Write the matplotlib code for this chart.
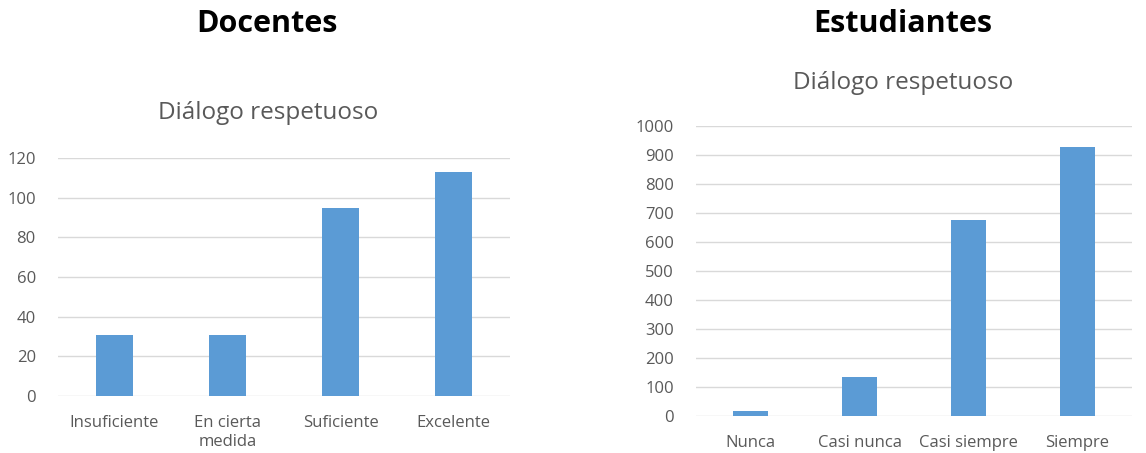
import matplotlib
matplotlib.use("Agg")
import matplotlib.pyplot as plt

doc_categories = ["Insuficiente", "En cierta\nmedida", "Suficiente", "Excelente"]
doc_values = [31, 31, 95, 113]
doc_yticks = [0, 20, 40, 60, 80, 100, 120]

est_categories = ["Nunca", "Casi nunca", "Casi siempre", "Siempre"]
est_values = [16, 134, 676, 929]
est_yticks = [0, 100, 200, 300, 400, 500, 600, 700, 800, 900, 1000]

plt.rcParams['font.family'] = ['Open Sans', 'DejaVu Sans']
BAR = "#5B9BD5"
GRID = "#D9D9D9"
TXT = "#595959"

fig = plt.figure(figsize=(11.46, 4.53), dpi=100)

def style(ax, cats, vals, ticks):
    x = list(range(len(cats)))
    ax.bar(x, vals, width=0.32, color=BAR, zorder=3)
    ax.set_xlim(-0.5, len(cats) - 0.5)
    ax.set_ylim(ticks[0], ticks[-1])
    ax.set_yticks(ticks)
    ax.set_xticks(x)
    ax.set_xticklabels(cats, fontsize=12, color=TXT, linespacing=1.25)
    ax.tick_params(axis='y', labelsize=12, labelcolor=TXT, length=0, pad=16)
    ax.tick_params(axis='x', length=0, pad=14)
    for s in ax.spines.values():
        s.set_visible(False)
    ax.grid(axis='y', color=GRID, linewidth=1.0, zorder=0)
    ax.set_axisbelow(True)

ax1 = fig.add_axes([58/1146, 1-396/453, 452/1146, 238/453])
style(ax1, doc_categories, doc_values, doc_yticks)
ax2 = fig.add_axes([696/1146, 1-416/453, 436/1146, 290/453])
style(ax2, est_categories, est_values, est_yticks)

fig.text(267/1146, 1-24/453, "Docentes", ha='center', va='center', fontsize=22, fontweight='bold', color='black')
fig.text(903/1146, 1-24/453, "Estudiantes", ha='center', va='center', fontsize=22, fontweight='bold', color='black')
fig.text(268/1146, 1-113/453, "Diálogo respetuoso", ha='center', va='center', fontsize=17.5, color=TXT)
fig.text(903/1146, 1-83/453, "Diálogo respetuoso", ha='center', va='center', fontsize=17.5, color=TXT)

fig.savefig("out.png", dpi=100, facecolor='white')
